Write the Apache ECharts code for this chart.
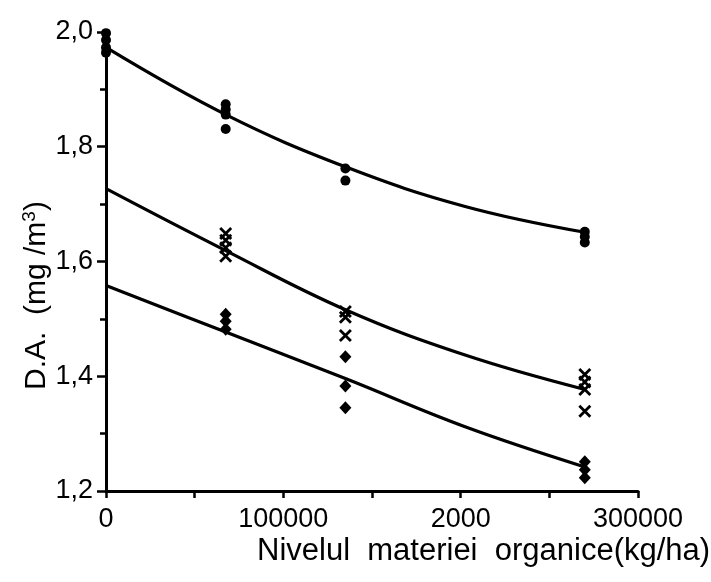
<!DOCTYPE html>
<html>
<head>
<meta charset="utf-8">
<title>D.A. vs Nivelul materiei organice</title>
<script src="https://cdn.jsdelivr.net/npm/echarts@6/dist/echarts.min.js"></script>
<style>
  html, body { margin: 0; padding: 0; background: #fff; }
  #chart { width: 711px; height: 582px; }
</style>
</head>
<body>
<div id="chart"></div>
<script>
// Tick labels
const xTickLabels = ["0", "100000", "2000", "300000"];
const yTickLabels = ["1,2", "1,4", "1,6", "1,8", "2,0"];

// Measured points: filled dots (top group)
const dotX = [0, 0, 0, 0, 67500, 67500, 67500, 67500, 135000, 135000, 270000, 270000, 270000];
const dotY = [1.998, 1.986, 1.973, 1.964, 1.874, 1.865, 1.856, 1.831, 1.762, 1.741, 1.652, 1.643, 1.633];

// Measured points: crosses (middle group)
const crossX = [67500, 67500, 67500, 67500, 135000, 135000, 135000, 270000, 270000, 270000, 270000];
const crossY = [1.649, 1.637, 1.624, 1.609, 1.513, 1.503, 1.471, 1.403, 1.390, 1.377, 1.339];

// Measured points: diamonds (bottom group)
const diamondX = [67500, 67500, 67500, 135000, 135000, 135000, 270000, 270000, 270000];
const diamondY = [1.508, 1.496, 1.482, 1.434, 1.383, 1.345, 1.251, 1.237, 1.223];

// Fitted curves, read at regular doses
const curveX = [0, 67500, 135000, 202500, 270000];
const curveTop = [1.973, 1.856, 1.765, 1.696, 1.651];
const curveMid = [1.727, 1.619, 1.516, 1.437, 1.377];
const curveLow = [1.558, 1.477, 1.396, 1.312, 1.242];

const pairs = (xs, ys) => xs.map((x, i) => [x, ys[i]]);

const ink = '#000';
const labelFont = 'Liberation Sans';

const chart = echarts.init(document.getElementById('chart'), null, { renderer: 'canvas' });

const curveSeries = (data) => ({
  type: 'line',
  data: data,
  smooth: 0.4,
  showSymbol: false,
  symbol: 'none',
  lineStyle: { color: ink, width: 3.2 },
  silent: true,
  z: 3
});

chart.setOption({
  animation: false,
  backgroundColor: '#fff',
  grid: { left: 106, right: 73, top: 32, bottom: 91, containLabel: false },
  xAxis: {
    type: 'value',
    min: 0,
    max: 300000,
    interval: 100000,
    axisLine: { show: true, lineStyle: { color: ink, width: 3 } },
    axisTick: { show: true, inside: false, length: 7, lineStyle: { color: ink, width: 2.5 } },
    minorTick: { show: true, splitNumber: 2, length: 7, lineStyle: { color: ink, width: 2.5 } },
    splitLine: { show: false },
    axisLabel: {
      margin: 15,
      color: ink,
      fontFamily: labelFont,
      fontSize: 27,
      formatter: (v) => xTickLabels[Math.round(v / 100000)]
    }
  },
  yAxis: {
    type: 'value',
    min: 1.2,
    max: 2.0,
    interval: 0.2,
    axisLine: { show: true, lineStyle: { color: ink, width: 3 } },
    axisTick: { show: true, inside: false, length: 9, lineStyle: { color: ink, width: 2.5 } },
    minorTick: { show: true, splitNumber: 2, length: 6, lineStyle: { color: ink, width: 2.5 } },
    splitLine: { show: false },
    axisLabel: {
      margin: 13,
      color: ink,
      fontFamily: labelFont,
      fontSize: 27,
      formatter: (v) => yTickLabels[Math.round((v - 1.2) / 0.2)]
    }
  },
  graphic: [
    {
      type: 'text',
      left: 257,
      top: 536,
      style: {
        text: 'Nivelul  materiei  organice(kg/ha)',
        font: '31px "Liberation Sans"',
        fill: ink
      }
    },
    {
      type: 'text',
      x: 20,
      y: 390,
      rotation: Math.PI / 2,
      style: {
        text: 'D.A.  (mg /m{sup|3})',
        font: '30px "Liberation Sans"',
        fill: ink,
        verticalAlign: 'top',
        rich: {
          sup: { fontSize: 19, fontFamily: 'Liberation Sans', verticalAlign: 'top', padding: [0, 0, 14, 0], fill: ink }
        }
      }
    }
  ],
  series: [
    curveSeries(pairs(curveX, curveTop)),
    curveSeries(pairs(curveX, curveMid)),
    curveSeries(pairs(curveX, curveLow)),
    {
      type: 'scatter',
      data: pairs(dotX, dotY),
      symbol: 'circle',
      symbolSize: 10,
      itemStyle: { color: ink, opacity: 1 },
      z: 4
    },
    {
      type: 'scatter',
      data: pairs(crossX, crossY),
      symbol: 'path://M0,0L10,10M10,0L0,10',
      symbolSize: 11,
      itemStyle: { color: ink, borderColor: ink, borderWidth: 2.8, opacity: 1 },
      z: 4
    },
    {
      type: 'scatter',
      data: pairs(diamondX, diamondY),
      symbol: 'diamond',
      symbolSize: [12, 13],
      itemStyle: { color: ink, opacity: 1 },
      z: 4
    }
  ]
});
</script>
</body>
</html>
